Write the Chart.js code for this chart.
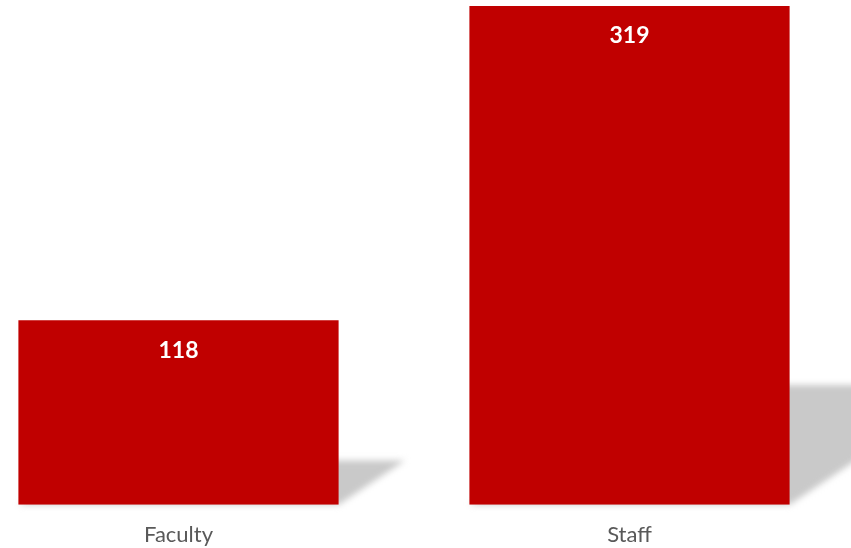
<!DOCTYPE html>
<html>
<head>
<meta charset="utf-8">
<title>Faculty and Staff</title>
<script src="https://cdn.jsdelivr.net/npm/chart.js@4/dist/chart.umd.min.js"></script>
<style>
    html, body {
        margin: 0;
        padding: 0;
        background: #ffffff;
        overflow: hidden;
    }
    #wrap {
        position: absolute;
        left: -47.5px;
        top: 0;
        width: 902px;
        height: 566px;
    }
</style>
</head>
<body>
<div id="wrap"><canvas id="headcountChart"></canvas></div>
<script>
// Headcount by group
const categories = ["Faculty", "Staff"]
const headcounts = [118, 319]

const barColor = "#C00000"
const labelColor = "#595959"

// Perspective shadow cast to the right of each bar
const barShadow = {
    id: "barShadow",
    beforeDatasetsDraw(chart) {
        const ctx = chart.ctx
        const meta = chart.getDatasetMeta(0)
        ctx.save()
        ctx.filter = "blur(3px)"
        ctx.fillStyle = "#c9c9c9"
        meta.data.forEach((bar) => {
            const left = bar.x - bar.width / 2
            const right = bar.x + bar.width / 2
            const h = (bar.base - bar.y) * 0.24
            const skew = h * 1.5
            ctx.beginPath()
            ctx.moveTo(left, bar.base)
            ctx.lineTo(right, bar.base)
            ctx.lineTo(right + skew, bar.base - h)
            ctx.lineTo(left + skew, bar.base - h)
            ctx.closePath()
            ctx.fill()
        })
        ctx.restore()
    },
}

// Value written inside the top of each bar
const valueLabels = {
    id: "valueLabels",
    afterDatasetsDraw(chart) {
        const ctx = chart.ctx
        const meta = chart.getDatasetMeta(0)
        ctx.save()
        ctx.fillStyle = "#ffffff"
        ctx.font = "bold 23px Lato"
        ctx.textAlign = "center"
        ctx.textBaseline = "middle"
        meta.data.forEach((bar, i) => {
            ctx.fillText(String(headcounts[i]), bar.x, bar.y + 30)
        })
        ctx.restore()
    },
}

new Chart(document.getElementById("headcountChart"), {
    type: "bar",
    data: {
        labels: categories,
        datasets: [
            {
                data: headcounts,
                backgroundColor: barColor,
                borderWidth: 0,
                categoryPercentage: 1,
                barPercentage: 0.71,
            },
        ],
    },
    options: {
        responsive: true,
        maintainAspectRatio: false,
        animation: false,
        layout: {
            padding: { top: 6, bottom: 0, left: 0, right: 0 },
        },
        plugins: {
            legend: { display: false },
            tooltip: { enabled: false },
        },
        scales: {
            x: {
                grid: { display: false, drawTicks: false },
                border: { display: false },
                ticks: {
                    color: labelColor,
                    padding: 18,
                    font: { family: "Lato", size: 22, lineHeight: 1.15 },
                },
            },
            y: {
                display: false,
                min: 0,
                max: 319,
            },
        },
    },
    plugins: [barShadow, valueLabels],
})
</script>
</body>
</html>
